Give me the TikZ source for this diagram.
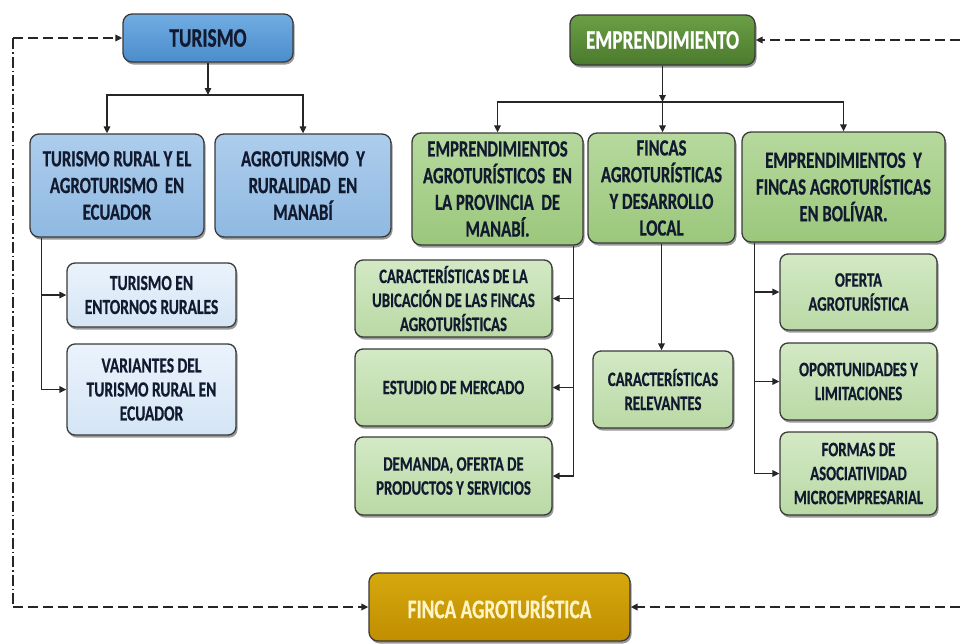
\documentclass[tikz,border=0pt]{standalone}
\usepackage{fontspec}
\setmainfont{Carlito}[FakeStretch=0.72, BoldFont={Carlito Bold}, BoldFeatures={FakeStretch=0.72, FakeBold=0.6}]
\usetikzlibrary{arrows.meta,shadows}
\definecolor{boxline}{HTML}{3A3A3A}
\definecolor{txt}{HTML}{121A30}
\definecolor{blueAt}{HTML}{72ADE3}
\definecolor{blueAb}{HTML}{4A8CCB}
\definecolor{blueBt}{HTML}{ADCDEC}
\definecolor{blueBb}{HTML}{8FB9E2}
\definecolor{blueCt}{HTML}{EAF3FC}
\definecolor{blueCb}{HTML}{D5E5F5}
\definecolor{greenAt}{HTML}{6B9F45}
\definecolor{greenAb}{HTML}{4B7A2C}
\definecolor{greenBt}{HTML}{B6D99D}
\definecolor{greenBb}{HTML}{9BC77C}
\definecolor{greenCt}{HTML}{D3E9C5}
\definecolor{greenCb}{HTML}{BAD9A5}
\definecolor{goldt}{HTML}{D6A80E}
\definecolor{goldb}{HTML}{C08E00}
\definecolor{goldtxt}{HTML}{FFF4C6}
\begin{document}
\begin{tikzpicture}[x=1pt,y=-1pt,
  box/.style={draw=boxline, line width=1.3pt, rounded corners=9pt, align=center,
    inner sep=0pt, text=txt,
    drop shadow={shadow xshift=1.5pt, shadow yshift=-2.5pt, opacity=0.4, fill=black}},
  title/.style={box, font=\bfseries\fontsize{26.8}{30}\selectfont},
  lvtwo/.style={box, font=\bfseries\fontsize{23.2}{26.7}\selectfont},
  lvsub/.style={box, rounded corners=8pt, font=\bfseries\fontsize{20.5}{24}\selectfont},
  bluetitle/.style={title, top color=blueAt, bottom color=blueAb},
  greentitle/.style={title, top color=greenAt, bottom color=greenAb, text=white},
  goldtitle/.style={title, top color=goldt, bottom color=goldb, text=goldtxt},
  bluetwo/.style={lvtwo, top color=blueBt, bottom color=blueBb},
  greentwo/.style={lvtwo, top color=greenBt, bottom color=greenBb},
  bluesub/.style={lvsub, top color=blueCt, bottom color=blueCb, font=\bfseries\fontsize{21.5}{24}\selectfont},
  greensub/.style={lvsub, top color=greenCt, bottom color=greenCb},
  conn/.style={draw=black!85, line width=1.5pt, -{Triangle[length=7pt,width=6.5pt]}},
  dashconn/.style={draw=black!85, line width=1.8pt, dash pattern=on 10pt off 5pt, -{Triangle[length=7pt,width=6.5pt]}},
  dashdot/.style={draw=black!85, line width=1.3pt, dash pattern=on 11pt off 3pt on 1.5pt off 3pt}
]
\useasboundingbox (0,0) rectangle (960,643);
\fill[white] (0,0) rectangle (960,643);

% top level
\node[bluetitle, minimum width=170pt, minimum height=48pt] (tur) at (208,38) {TURISMO};
\node[greentitle, minimum width=185pt, minimum height=50pt] (emp) at (662.5,40) {EMPRENDIMIENTO};

% level two
\node[bluetwo, minimum width=174pt, minimum height=103pt] (trural) at (117,185.5)
  {TURISMO RURAL Y EL\\AGROTURISMO\ \ EN\\ECUADOR};
\node[bluetwo, minimum width=176pt, minimum height=103pt] (agro) at (303,185.5)
  {AGROTURISMO\ \ Y\\RURALIDAD\ \ EN\\MANABÍ};
\node[greentwo, minimum width=171pt, minimum height=112pt] (empm) at (497.5,189)
  {EMPRENDIMIENTOS\\AGROTURÍSTICOS\ \ EN\\LA PROVINCIA\ \ DE\\MANABÍ.};
\node[greentwo, minimum width=147pt, minimum height=110pt] (fincas) at (661.5,188)
  {FINCAS\\AGROTURÍSTICAS\\Y DESARROLLO\\LOCAL};
\node[greentwo, minimum width=203pt, minimum height=110pt] (boliv) at (843.5,187)
  {EMPRENDIMIENTOS\ \ Y\\FINCAS AGROTURÍSTICAS\\EN BOLÍVAR.};

% sub levels
\node[bluesub, minimum width=169pt, minimum height=64pt] (ent) at (151.5,295)
  {TURISMO EN\\ENTORNOS RURALES};
\node[bluesub, minimum width=169pt, minimum height=91pt] (var) at (151.5,389.5)
  {VARIANTES DEL\\TURISMO RURAL EN\\ECUADOR};
\node[greensub, minimum width=197pt, minimum height=77pt] (carac) at (453.5,298.5)
  {CARACTERÍSTICAS DE LA\\UBICACIÓN DE LAS FINCAS\\AGROTURÍSTICAS};
\node[greensub, minimum width=197pt, minimum height=77pt] (estud) at (453.5,387.5)
  {ESTUDIO DE MERCADO};
\node[greensub, minimum width=197pt, minimum height=78pt] (deman) at (453.5,476)
  {DEMANDA, OFERTA DE\\PRODUCTOS Y SERVICIOS};
\node[greensub, minimum width=140pt, minimum height=77pt] (relev) at (663,389.5)
  {CARACTERÍSTICAS\\RELEVANTES};
\node[greensub, minimum width=157pt, minimum height=76pt] (ofer) at (858.5,292)
  {OFERTA\\AGROTURÍSTICA};
\node[greensub, minimum width=157pt, minimum height=77pt] (oport) at (858.5,381.5)
  {OPORTUNIDADES Y\\LIMITACIONES};
\node[greensub, minimum width=157pt, minimum height=83pt] (formas) at (858.5,473.5)
  {FORMAS DE\\ASOCIATIVIDAD\\MICROEMPRESARIAL};

% bottom
\node[goldtitle, minimum width=261pt, minimum height=68pt] (finca) at (499.5,607)
  {FINCA AGROTURÍSTICA};

% TURISMO tree
\coordinate (tj) at (208,95);
\draw[conn] (tur.south) -- (tj);
\draw[conn] (tj) -| ([xshift=-10pt]trural.north);
\draw[conn] (tj) -| (agro.north);

% EMPRENDIMIENTO tree
\coordinate (ej) at (662.5,102);
\draw[conn] (emp.south) -- (ej);
\draw[conn] (ej) -| (empm.north);
\draw[conn] (ej) -- (ej |- fincas.north);
\draw[conn] (ej) -| (boliv.north);

% blue subs
\coordinate (tb) at ([xshift=12pt]trural.south west);
\draw[conn] (tb) |- (var.west);
\draw[conn] (tb |- ent.west) -- (ent.west);

% green left subs
\coordinate (gb) at ([xshift=-10pt]empm.south east);
\draw[conn] (gb) |- (deman.east);
\draw[conn] (gb |- carac.east) -- (carac.east);
\draw[conn] (gb |- estud.east) -- (estud.east);

% fincas -> relevantes
\draw[conn] (fincas.south) -- (fincas.south |- relev.north);

% bolivar subs
\coordinate (bb) at ([xshift=13pt]boliv.south west);
\draw[conn] (bb) |- (formas.west);
\draw[conn] (bb |- ofer.west) -- (ofer.west);
\draw[conn] (bb |- oport.west) -- (oport.west);

% feedback dashed lines
\coordinate (lt) at (13,38);
\coordinate (lb) at (13,607);
\coordinate (rt) at (960,40);
\coordinate (rb) at (960,607);
\draw[dashdot] (lt) -- (lb);
\draw[dashconn] (lt) -- (tur.west);
\draw[dashconn] (lb) -- (finca.west);
\draw[dashconn] (rt) -- (emp.east);
\draw[dashconn] (rb) -- (finca.east);
\end{tikzpicture}
\end{document}
